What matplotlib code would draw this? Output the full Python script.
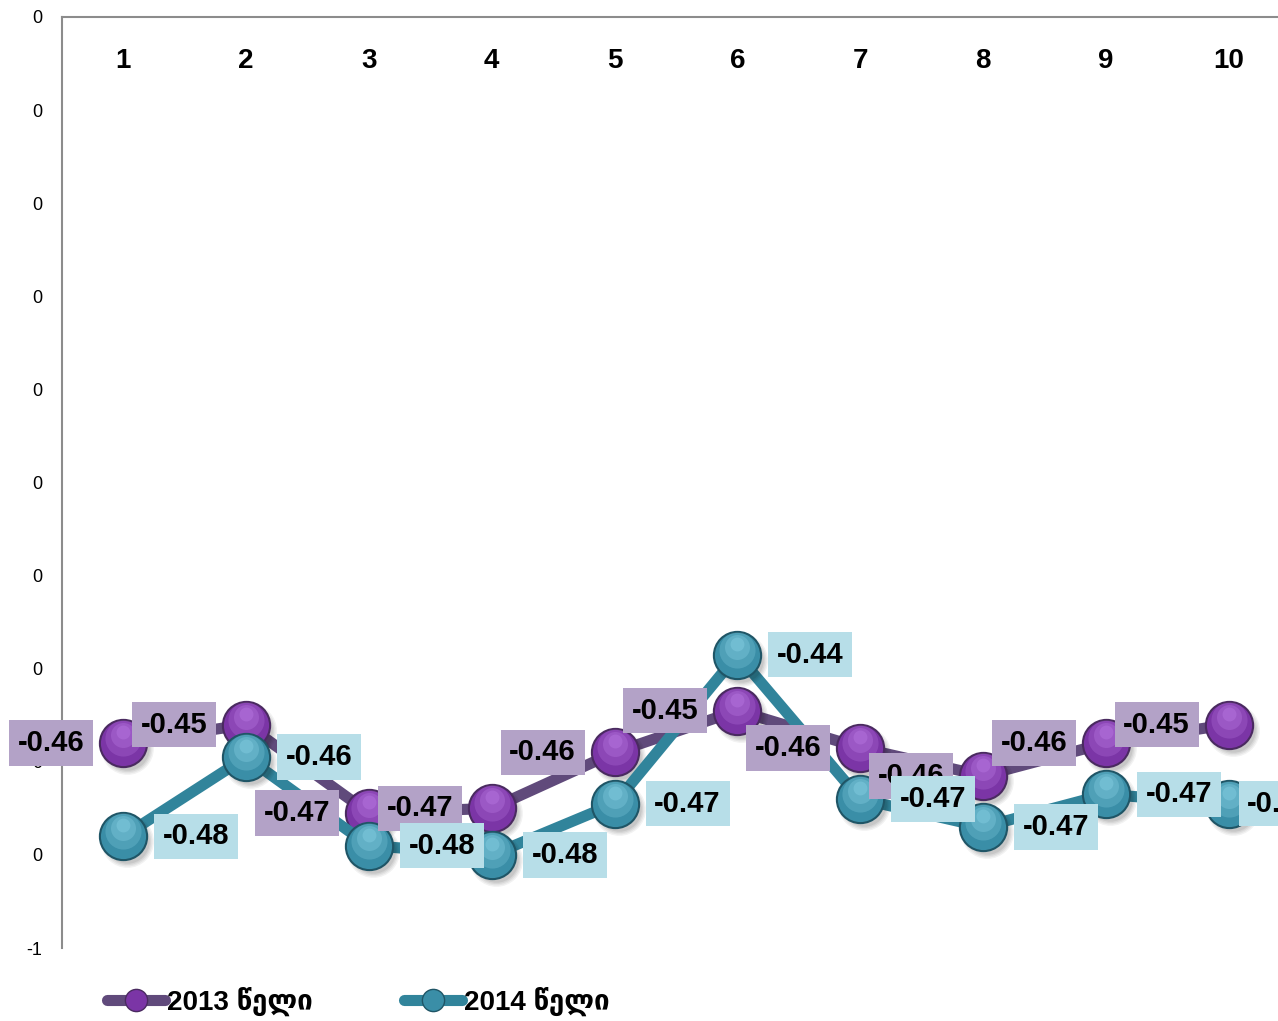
import math
import numpy as np
import matplotlib
matplotlib.use("Agg")
import matplotlib.pyplot as plt
import matplotlib.transforms as mtransforms
from matplotlib.lines import Line2D
from matplotlib.ticker import FuncFormatter

# data
points = [1, 2, 3, 4, 5, 6, 7, 8, 9, 10]
v2013 = [-0.456, -0.452, -0.471, -0.470, -0.458, -0.449, -0.457, -0.463, -0.456, -0.452]
v2014 = [-0.476, -0.459, -0.478, -0.480, -0.469, -0.437, -0.468, -0.474, -0.467, -0.469]
series_names = ["2013 წელი", "2014 წელი"]
yticks = [-0.5, -0.48, -0.46, -0.44, -0.42, -0.40, -0.38, -0.36, -0.34, -0.32, -0.30]

fonts = ["Liberation Sans", "DejaVu Sans"]
plt.rcParams["font.family"] = fonts

fig = plt.figure(figsize=(12.78, 10.21), dpi=100)
ax = fig.add_axes([62 / 1278, 1 - 948 / 1021, 1228 / 1278, 931 / 1021])


def excel_int(v, pos=None):
    r = math.floor(abs(v) + 0.5 + 1e-9)
    return "-%d" % r if (v < 0 and r != 0) else "%d" % r


def sphere(x, y, base, light, dark, z):
    # soft shadow
    for k, a in enumerate([0.05, 0.05, 0.06, 0.07]):
        off = mtransforms.offset_copy(ax.transData, fig=fig, x=4, y=-5, units="dots")
        ax.plot(x, y, "o", ms=38 - k * 2, color="black", alpha=a, mec="none",
                transform=off, zorder=z - 0.5, ls="none")
    ax.plot(x, y, "o", ms=34, color=base, mec=dark, mew=1.5, ls="none", zorder=z)
    # lighter top part to look a bit round
    for k, (s, a) in enumerate([(26, 0.25), (18, 0.3), (10, 0.35)]):
        off = mtransforms.offset_copy(ax.transData, fig=fig, x=0, y=5 + k * 3, units="dots")
        ax.plot(x, y, "o", ms=s, color=light, alpha=a, mec="none", ls="none",
                transform=off, zorder=z + 0.1)


# 2013
ax.plot(points, v2013, color="#604a7b", lw=8, solid_capstyle="round", zorder=2)
sphere(points, v2013, "#7b35a6", "#c080e8", "#4a2a60", 3)
# 2014
ax.plot(points, v2014, color="#31849b", lw=8, solid_capstyle="round", zorder=4)
sphere(points, v2014, "#3a8ea7", "#8fd6ea", "#1f5566", 5)

for x, v in zip(points, v2013):
    ax.annotate("%.2f" % v, (x, v), xytext=(-72, 0), textcoords="offset pixels",
                ha="center", va="center", fontsize=21, fontweight="bold",
                bbox=dict(boxstyle="square,pad=0.3", fc="#b3a2c7", ec="none"),
                zorder=10, annotation_clip=False)
for i, (x, v) in enumerate(zip(points, v2014)):
    # excel pushes the last label back so it stays mostly inside the chart
    dx = 73 if i < len(points) - 1 else 52
    ax.annotate("%.2f" % v, (x, v), xytext=(dx, 0), textcoords="offset pixels",
                ha="center", va="center", fontsize=21, fontweight="bold",
                bbox=dict(boxstyle="square,pad=0.3", fc="#b7dee8", ec="none"),
                zorder=11, annotation_clip=False)

ax.set_xlim(0.5, 10.5)
ax.set_ylim(-0.5, -0.3)
ax.set_yticks(yticks)
ax.yaxis.set_major_formatter(FuncFormatter(excel_int))
ax.set_xticks(points)
ax.xaxis.tick_top()
ax.tick_params(axis="x", length=0, pad=-41, labelsize=20)
for lab in ax.get_xticklabels():
    lab.set_fontweight("bold")
ax.tick_params(axis="y", length=0, pad=14, labelsize=13)

for s in ["right", "bottom"]:
    ax.spines[s].set_visible(False)
for s in ["left", "top"]:
    ax.spines[s].set_color("#8c8c8c")
    ax.spines[s].set_linewidth(1.5)

handles = [
    Line2D([], [], color="#604a7b", lw=8, marker="o", ms=16, mfc="#7b35a6", mec="#4a2a60",
           solid_capstyle="round"),
    Line2D([], [], color="#31849b", lw=8, marker="o", ms=16, mfc="#3a8ea7", mec="#1f5566",
           solid_capstyle="round"),
]
leg = fig.legend(handles, series_names, loc="center left",
                 bbox_to_anchor=(82 / 1278, 1 - 1001 / 1021), ncol=2, frameon=False,
                 handlelength=2.1, handletextpad=0.05, columnspacing=3.3,
                 prop=dict(family=fonts, weight="bold", size=20))

fig.savefig("out.png", dpi=100)
